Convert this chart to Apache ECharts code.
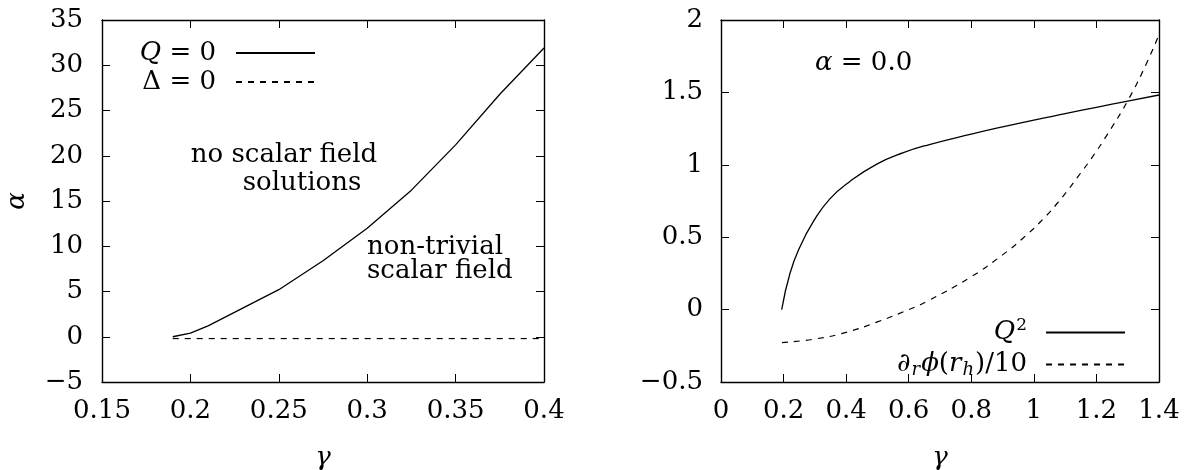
<!DOCTYPE html>
<html>
<head>
<meta charset="utf-8">
<script src="https://cdn.jsdelivr.net/npm/echarts@6/dist/echarts.min.js"></script>
<style>
html,body{margin:0;padding:0;background:#fff;}
#c{width:1184px;height:470px;}
</style>
</head>
<body>
<div id="c"></div>
<script>
// ---------- data ----------
// Left panel: phase boundary lines
const gammaQ0 = [0.19, 0.2, 0.21, 0.25, 0.275, 0.3, 0.325, 0.35, 0.375, 0.4];
const alphaQ0 = [0.0, 0.4, 1.2, 5.2, 8.4, 12.0, 16.2, 21.2, 26.8, 31.9];
const gammaD0 = [0.19, 0.4];
const alphaD0 = [-0.2, -0.2];

// Right panel: alpha = 0.0
const gammaQ2 = [0.194, 0.2206, 0.2525, 0.295, 0.348, 0.412, 0.498, 0.583, 0.666, 0.8, 0.9, 1.0, 1.1, 1.2, 1.3, 1.4];
const valueQ2 = [0.0, 0.251, 0.434, 0.607, 0.765, 0.885, 1.005, 1.084, 1.14, 1.212, 1.262, 1.309, 1.353, 1.397, 1.44, 1.482];
const gammaDphi = [0.195, 0.3, 0.4, 0.5, 0.6, 0.657, 0.8, 0.9, 0.965, 1.029, 1.088, 1.141, 1.189, 1.232, 1.302, 1.36, 1.4];
const valueDphi = [-0.228, -0.203, -0.157, -0.085, 0.0, 0.055, 0.227, 0.378, 0.493, 0.624, 0.769, 0.918, 1.06, 1.2, 1.45, 1.70, 1.9];

// Tick labels
const leftXTicks = [0.15, 0.2, 0.25, 0.3, 0.35, 0.4];
const leftYTicks = [-5, 0, 5, 10, 15, 20, 25, 30, 35];
const rightXTicks = [0, 0.2, 0.4, 0.6, 0.8, 1, 1.2, 1.4];
const rightYTicks = [-0.5, 0, 0.5, 1, 1.5, 2];

// Series names
const nameQ0 = 'Q = 0';
const nameD0 = 'Δ = 0';
const nameQ2 = 'Q²';
const nameDphi = '∂ᵣϕ(rₕ)/10';

// ---------- helpers ----------
const FONT = "'DejaVu Serif', 'Liberation Serif', serif";
const FS = 26;
function pairs(xs, ys) { return xs.map((x, i) => [x, ys[i]]); }
function tickFmt(ticks) {
  return function (v) {
    for (const t of ticks) { if (Math.abs(t - v) < 1e-9) return String(t).replace('-', '\u2212'); }
    return '';
  };
}
function axisRange(ticks) {
  const min = ticks[0], max = ticks[ticks.length - 1];
  return { min: min, max: max, interval: +((max - min) / (ticks.length - 1)).toFixed(6) };
}
const lineCol = '#000';
function labelStyle(ticks, margin) {
  return { show: true, formatter: tickFmt(ticks), color: '#000', fontFamily: FONT, fontSize: FS, margin: margin };
}
const nameStyle = { fontFamily: FONT, fontSize: FS, fontStyle: 'italic', color: '#000' };
function baseAxis(ticks, gridIndex, position, extra) {
  const r = axisRange(ticks);
  return Object.assign({
    type: 'value', gridIndex: gridIndex, position: position,
    min: r.min, max: r.max, interval: r.interval,
    axisLine: { show: true, onZero: false, lineStyle: { color: lineCol, width: 1.4 } },
    axisTick: { show: true, inside: true, length: 8, lineStyle: { color: lineCol, width: 1 } },
    splitLine: { show: false },
    axisLabel: { show: false },
  }, extra || {});
}

const chart = echarts.init(document.getElementById('c'), null, { renderer: 'canvas' });

const rich = {
  i: { fontStyle: 'italic', fontFamily: FONT, fontSize: FS, lineHeight: 26, color: '#000' },
  n: { fontFamily: FONT, fontSize: FS, lineHeight: 26, color: '#000' },
  s: { fontStyle: 'italic', fontFamily: FONT, fontSize: 18, lineHeight: 12, padding: [11, 1, 0, 1], color: '#000' },
  p: { fontFamily: FONT, fontSize: 17, lineHeight: 12, padding: [0, 0, 14, 1], color: '#000' }
};

const option = {
  backgroundColor: '#fff',
  animation: false,
  grid: [
    { left: 102, top: 20, width: 442, height: 362, outerBoundsMode: 'none', containLabel: false },
    { left: 721, top: 20, width: 438, height: 362, outerBoundsMode: 'none', containLabel: false }
  ],
  xAxis: [
    baseAxis(leftXTicks, 0, 'bottom', {
      axisLabel: labelStyle(leftXTicks, 16),
      name: 'γ', nameLocation: 'middle', nameGap: 63, nameTextStyle: nameStyle
    }),
    baseAxis(leftXTicks, 0, 'top'),
    baseAxis(rightXTicks, 1, 'bottom', {
      axisLabel: labelStyle(rightXTicks, 16),
      name: 'γ', nameLocation: 'middle', nameGap: 63, nameTextStyle: nameStyle
    }),
    baseAxis(rightXTicks, 1, 'top')
  ],
  yAxis: [
    baseAxis(leftYTicks, 0, 'left', {
      axisLabel: labelStyle(leftYTicks, 19),
      name: 'α', nameLocation: 'middle', nameGap: 72, nameTextStyle: nameStyle
    }),
    baseAxis(leftYTicks, 0, 'right'),
    baseAxis(rightYTicks, 1, 'left', {
      axisLabel: labelStyle(rightYTicks, 18)
    }),
    baseAxis(rightYTicks, 1, 'right')
  ],
  legend: [
    {
      data: [nameQ0, nameD0],
      orient: 'vertical', align: 'right', padding: 0,
      right: 1184 - 316, top: 40,
      itemWidth: 79, itemHeight: 10, itemGap: 3,
      selectedMode: false,
      itemStyle: { opacity: 0 },
      formatter: function (n) { return n === nameQ0 ? '{i|Q}{n| = 0}' : '{n|Δ = 0}'; },
      textStyle: { fontFamily: FONT, fontSize: FS, lineHeight: 26, color: '#000', padding: [0, 15, 0, 0], rich: rich }
    },
    {
      data: [nameQ2, nameDphi],
      orient: 'vertical', align: 'right', padding: 0,
      right: 1184 - 1126, top: 317,
      itemWidth: 79, itemHeight: 10, itemGap: 2,
      selectedMode: false,
      itemStyle: { opacity: 0 },
      formatter: function (n) { return n === nameQ2 ? '{i|Q}{p|2}' : '{n|∂}{s|r}{i|ϕ}{n|(}{i|r}{s|h}{n|)/10}'; },
      textStyle: { fontFamily: FONT, fontSize: FS, lineHeight: 26, color: '#000', padding: [0, 14, 0, 0], rich: rich }
    }
  ],
  series: [
    { name: nameQ0, type: 'line', xAxisIndex: 0, yAxisIndex: 0, data: pairs(gammaQ0, alphaQ0),
      symbol: 'none', lineStyle: { color: '#000', width: 1.3 }, itemStyle: { color: '#000' } },
    { name: nameD0, type: 'line', xAxisIndex: 0, yAxisIndex: 0, data: pairs(gammaD0, alphaD0),
      symbol: 'none', lineStyle: { color: '#000', width: 1.2, type: [6, 6] }, itemStyle: { color: '#000' } },
    { name: nameQ2, type: 'line', xAxisIndex: 2, yAxisIndex: 2, data: pairs(gammaQ2, valueQ2),
      symbol: 'none', smooth: 0.5, lineStyle: { color: '#000', width: 1.3 }, itemStyle: { color: '#000' } },
    { name: nameDphi, type: 'line', xAxisIndex: 2, yAxisIndex: 2, data: pairs(gammaDphi, valueDphi),
      symbol: 'none', smooth: 0.5, lineStyle: { color: '#000', width: 1.2, type: [6, 6] }, itemStyle: { color: '#000' } }
  ],
  graphic: [
    { type: 'text', x: 284, y: 155, style: { text: 'no scalar field', font: FS + 'px ' + FONT, fill: '#000', align: 'center', verticalAlign: 'middle' } },
    { type: 'text', x: 302, y: 183, style: { text: 'solutions', font: FS + 'px ' + FONT, fill: '#000', align: 'center', verticalAlign: 'middle' } },
    { type: 'text', x: 367, y: 247, style: { text: 'non-trivial', font: FS + 'px ' + FONT, fill: '#000', align: 'left', verticalAlign: 'middle' } },
    { type: 'text', x: 367, y: 271, style: { text: 'scalar field', font: FS + 'px ' + FONT, fill: '#000', align: 'left', verticalAlign: 'middle' } },
    { type: 'text', x: 815, y: 63, style: { text: '{i|α}{n| = 0.0}', rich: rich, fill: '#000', align: 'left', verticalAlign: 'middle' } }
  ]
};
chart.setOption(option);
</script>
</body>
</html>
